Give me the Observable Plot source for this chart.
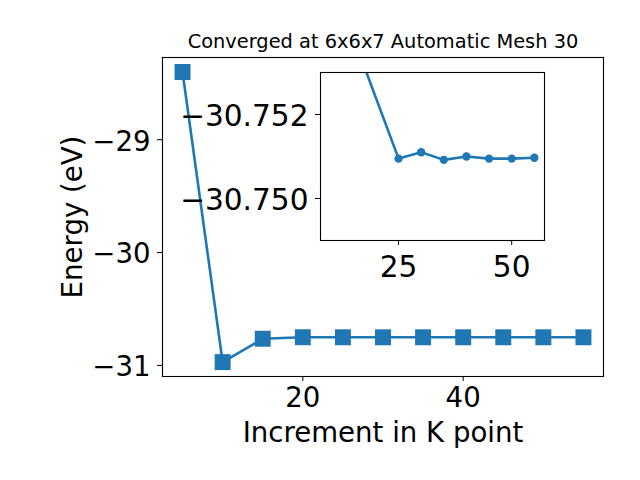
<!DOCTYPE html>
<html><head><meta charset="utf-8">
<script src="https://cdn.jsdelivr.net/npm/d3@7"></script>
<script src="https://cdn.jsdelivr.net/npm/@observablehq/plot@0.6"></script>
<style>
body{margin:0;background:#fff;}
#wrap{position:relative;width:640px;height:480px;}
#wrap svg{position:absolute;left:0;top:0;}
</style></head><body><div id="wrap"></div>
<script>
const kpoints = [5, 10, 15, 20, 25, 30, 35, 40, 45, 50, 55];
const energies = [-28.400, -30.971, -30.764, -30.7505, -30.75095, -30.75110, -30.75092, -30.75100, -30.75095, -30.75095, -30.75097];
const insetKpoints = [15, 25, 30, 35, 40, 45, 50, 55];
const insetEnergies = [-30.75384, -30.75095, -30.75110, -30.75092, -30.75100, -30.75095, -30.75095, -30.75097];
const mainXTicks = [20, 40];
const mainYTicks = [-31, -30, -29];
const insetXTicks = [25, 50];
const insetYTicks = [-30.752, -30.750];
const titleText = "Converged at 6x6x7 Automatic Mesh 30";
const xLabel = "Increment in K point";
const yLabel = "Energy (eV)";

const blue = "#1f77b4";
const fs = 27.6;
const fsInset = 29.6;
const fmt = n => d => (d < 0 ? "\u2212" : "") + Math.abs(d).toFixed(n);
const main = kpoints.map((k, i) => ({k, e: energies[i]}));
const inset = insetKpoints.map((k, i) => ({k, e: insetEnergies[i]}));

const mainPlot = Plot.plot({
  width: 640, height: 480,
  marginLeft: 162, marginRight: 37, marginTop: 57, marginBottom: 104,
  style: {fontFamily: "DejaVu Sans", background: "white", overflow: "visible"},
  x: {domain: [2.5, 57.5]},
  y: {domain: [-31.0985, -28.2715]},
  marks: [
    Plot.axisX({ticks: mainXTicks, tickSize: 5, tickFormat: () => "", label: null}),
    Plot.axisX({ticks: mainXTicks, tickSize: 0, tickPadding: 11, fontSize: fs, tickFormat: fmt(0), label: null}),
    Plot.axisY({ticks: mainYTicks, tickSize: 5, tickFormat: () => "", label: null}),
    Plot.axisY({ticks: mainYTicks, tickSize: 0, tickPadding: 12, dy: 2, fontSize: fs, tickFormat: fmt(0), label: null}),
    Plot.line(main, {x: "k", y: "e", stroke: blue, strokeWidth: 2.6}),
    Plot.dot(main, {x: "k", y: "e", symbol: "square", r: 9, fill: blue, stroke: "none"}),
    Plot.frame({stroke: "black", strokeWidth: 1.1}),
    Plot.text([titleText], {text: d => d, frameAnchor: "top", dy: -15.5, lineAnchor: "middle", textAnchor: "middle", fontSize: 19.4}),
    Plot.text([xLabel], {text: d => d, frameAnchor: "bottom", dy: 56.8, lineAnchor: "middle", textAnchor: "middle", fontSize: fs}),
    Plot.text([yLabel], {text: d => d, frameAnchor: "left", dx: -89.2, rotate: -90, lineAnchor: "middle", textAnchor: "middle", fontSize: fs})
  ]
});

const insetPlot = Plot.plot({
  width: 640, height: 480,
  marginLeft: 320, marginRight: 96, marginTop: 72, marginBottom: 240,
  style: {fontFamily: "DejaVu Sans", background: "transparent", overflow: "visible"},
  x: {domain: [7.75, 57.25]},
  y: {domain: [-30.753, -30.749], reverse: true},
  marks: [
    Plot.frame({fill: "white", stroke: "none"}),
    Plot.axisX({ticks: insetXTicks, tickSize: 5, tickFormat: () => "", label: null}),
    Plot.axisX({ticks: insetXTicks, tickSize: 0, tickPadding: 15, fontSize: fsInset, tickFormat: fmt(0), label: null}),
    Plot.axisY({ticks: insetYTicks, tickSize: 5, tickFormat: () => "", label: null}),
    Plot.axisY({ticks: insetYTicks, tickSize: 0, tickPadding: 12, dy: 2.2, fontSize: fsInset, tickFormat: fmt(3), label: null}),
    Plot.line(inset, {x: "k", y: "e", stroke: blue, strokeWidth: 2.6, clip: true}),
    Plot.dot(inset, {x: "k", y: "e", r: 4.2, fill: blue, stroke: "none", clip: true}),
    Plot.frame({stroke: "black", strokeWidth: 1.1})
  ]
});

const wrap = document.getElementById("wrap");
wrap.appendChild(mainPlot);
wrap.appendChild(insetPlot);
</script></body></html>
